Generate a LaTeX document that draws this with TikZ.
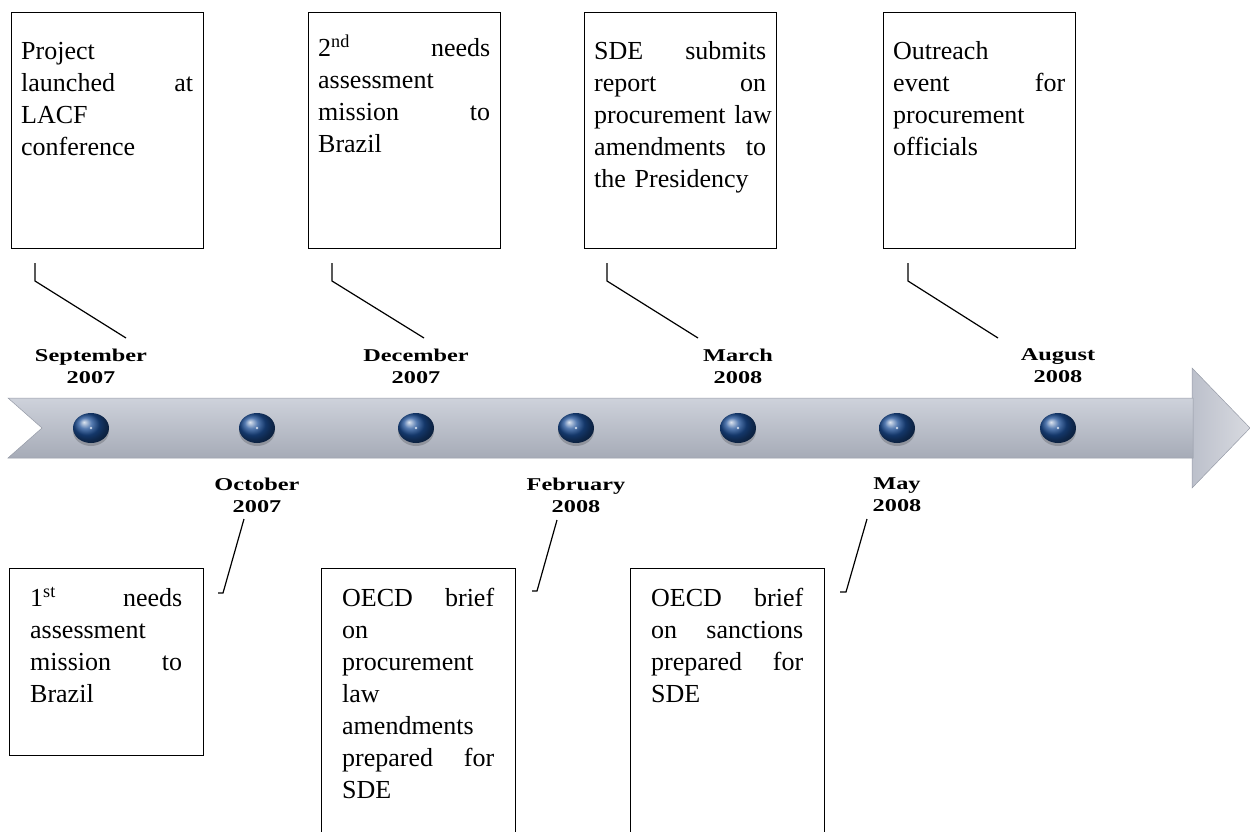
\documentclass[tikz,border=0pt]{standalone}
\usepackage{fontspec}
\setmainfont{Liberation Serif}
\newfontfamily\datefont{Liberation Serif}[FakeStretch=1.35]
\usetikzlibrary{shapes.geometric}
\definecolor{bandtop}{RGB}{206,210,219}
\definecolor{bandmid}{RGB}{193,197,207}
\definecolor{bandbot}{RGB}{166,171,183}
\definecolor{bandedge}{RGB}{150,155,167}
\definecolor{headl}{RGB}{188,192,203}
\definecolor{headr}{RGB}{216,218,224}
\definecolor{dotblue}{RGB}{28,78,150}
\begin{document}
\begin{tikzpicture}[x=1pt,y=-1pt,
  box/.style={draw, line width=1.3pt, anchor=north west, inner sep=0pt, minimum width=192pt},
  txt/.style={anchor=north west, inner sep=0pt, align=left, font=\fontsize{26}{32}\selectfont},
  toptxt/.style={txt, text width=172pt},
  bottxt/.style={txt, text width=152pt},
  datelab/.style={anchor=north, inner sep=0pt, align=center, font=\datefont\bfseries\fontsize{18}{22}\selectfont},
  link/.style={draw, line width=1.2pt},
  dotnode/.style={ellipse, minimum width=36pt, minimum height=30pt, inner sep=0pt, shade, ball color=dotblue}
]
\useasboundingbox (0,0) rectangle (1250,832);

% ---- timeline band ----
\shade[left color=headl, right color=headr, draw=bandedge, line width=0.5pt]
  (1192,368) -- (1250,428) -- (1192,488) -- cycle;
\shade[top color=bandtop, middle color=bandmid, bottom color=bandbot, draw=bandedge, line width=0.5pt]
  (8,398) -- (1193,398) -- (1193,458) -- (8,458) -- (42,428) -- cycle;

% ---- dots ----
\foreach \i/\x in {1/91,2/257,3/416,4/576,5/738,6/897,7/1058}{
  \fill[black, opacity=0.18] (\x,431) ellipse (18pt and 15pt);
  \node[dotnode] (d\i) at (\x,428) {};
  \fill[white!75!dotblue] (d\i.center) circle (1.3pt);
}

% ---- date labels ----
\node[datelab] (l1) at (91,348.5) {September\\2007};
\node[datelab] (l3) at (416,348.5) {December\\2007};
\node[datelab] (l5) at (738,348.5) {March\\2008};
\node[datelab] (l7) at (1058,348.5) {August\\2008};
\node[datelab] (l2) at (257,477.5) {October\\2007};
\node[datelab] (l4) at (576,477.5) {February\\2008};
\node[datelab] (l6) at (897,477.5) {May\\2008};

% ---- top boxes ----
\node[box, minimum height=236pt] (t1) at (11,12) {};
\node[box, minimum height=236pt] (t2) at (308,12) {};
\node[box, minimum height=236pt] (t3) at (584,12) {};
\node[box, minimum height=236pt] (t4) at (883,12) {};

\node[toptxt] (tt1) at ([xshift=10pt,yshift=-25pt]t1.north west)
  {\strut Project\\launched\hfill at\\LACF\\conference};
\node[toptxt] (tt2) at ([xshift=10pt,yshift=-22pt]t2.north west)
  {\strut 2\textsuperscript{nd}\hfill needs\\assessment\\mission\hfill to\\Brazil};
\node[toptxt] (tt3) at ([xshift=10pt,yshift=-25pt]t3.north west)
  {\strut SDE\hfill submits\\report\hfill on\\\mbox{procurement law}\\amendments\hfill to\\the Presidency};
\node[toptxt] (tt4) at ([xshift=10pt,yshift=-25pt]t4.north west)
  {\strut Outreach\\event\hfill for\\procurement\\officials};

% ---- bottom boxes ----
\node[box, minimum width=194pt, minimum height=187pt] (b1) at (9,568) {};
\node[box, minimum width=194pt, minimum height=290pt] (b2) at (321,568) {};
\node[box, minimum width=194pt, minimum height=290pt] (b3) at (630,568) {};

\node[bottxt] (bt1) at ([xshift=21pt,yshift=-15.6pt]b1.north west)
  {\strut 1\textsuperscript{st}\hfill needs\\assessment\\mission\hfill to\\Brazil};
\node[bottxt] (bt2) at ([xshift=21pt,yshift=-15.6pt]b2.north west)
  {\strut OECD\hfill brief\\on\\procurement\\law\\amendments\\prepared\hfill for\\SDE};
\node[bottxt] (bt3) at ([xshift=21pt,yshift=-15.6pt]b3.north west)
  {\strut OECD\hfill brief\\on\hfill sanctions\\prepared\hfill for\\SDE};

% ---- connectors (top) ----
\coordinate (c1a) at (35,263);  \coordinate (c1b) at (35,281);  \coordinate (c1c) at (126,338);
\coordinate (c3a) at (332,263); \coordinate (c3b) at (332,281); \coordinate (c3c) at (424,338);
\coordinate (c5a) at (607,263); \coordinate (c5b) at (607,281); \coordinate (c5c) at (698,338);
\coordinate (c7a) at (908,263); \coordinate (c7b) at (908,281); \coordinate (c7c) at (998,338);
\draw[link] (c1a) -- (c1b) -- (c1c);
\draw[link] (c3a) -- (c3b) -- (c3c);
\draw[link] (c5a) -- (c5b) -- (c5c);
\draw[link] (c7a) -- (c7b) -- (c7c);

% ---- connectors (bottom) ----
\coordinate (c2a) at (218,593); \coordinate (c2b) at (223,593); \coordinate (c2c) at (244,519);
\coordinate (c4a) at (532,591); \coordinate (c4b) at (537,591); \coordinate (c4c) at (557,520);
\coordinate (c6a) at (840,592); \coordinate (c6b) at (846,592); \coordinate (c6c) at (867,519);
\draw[link] (c2a) -- (c2b) -- (c2c);
\draw[link] (c4a) -- (c4b) -- (c4c);
\draw[link] (c6a) -- (c6b) -- (c6c);
\end{tikzpicture}
\end{document}
